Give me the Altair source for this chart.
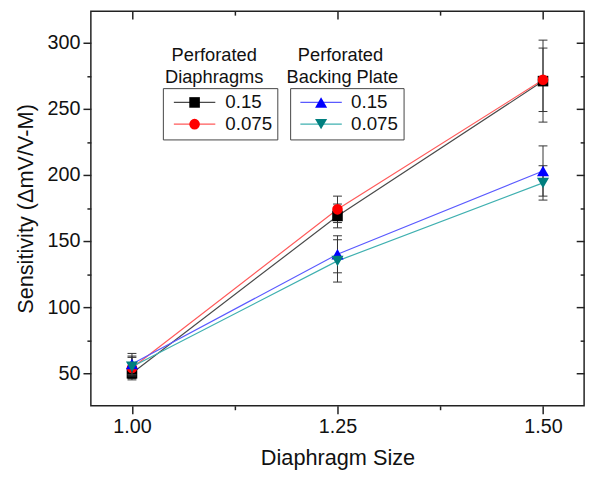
import altair as alt
import pandas as pd

sizes = [1.00, 1.25, 1.50]

# Perforated Diaphragms
diaph_015 = [50, 169, 271]
diaph_015_err = [4, 9, 31]
diaph_0075 = [54, 174, 272]
diaph_0075_err = [9, 10, 24]

# Perforated Backing Plate
bp_015 = [57, 140, 203]
bp_015_err = [8, 14, 19]
bp_0075 = [55, 135, 194]
bp_0075_err = [7, 16, 13]

series_names = ["0.15", "0.075"]
x_ticks = [1.0, 1.125, 1.25, 1.375, 1.5]
y_ticks = [50, 75, 100, 125, 150, 175, 200, 225, 250, 275, 300]

FONT = "Liberation Sans"
ROW_PITCH = 22


def frame(v1, e1, v2, e2):
    return pd.DataFrame({
        "size": sizes * 2,
        "series": [series_names[0]] * 3 + [series_names[1]] * 3,
        "value": v1 + v2,
        "err": e1 + e2,
    })


df1 = frame(diaph_015, diaph_015_err, diaph_0075, diaph_0075_err)
df2 = frame(bp_015, bp_015_err, bp_0075, bp_0075_err)

xdom = [0.95, 1.55]
ydom = [25.4, 323.9]
minor_x = "abs(datum.value*4 - round(datum.value*4)) > 0.01"
minor_y = "datum.value % 50 != 0"

ax_bottom = alt.Axis(
    orient="bottom", values=x_ticks, format=".2f",
    labelExpr=f"({minor_x}) ? '' : datum.label",
    tickSize={"condition": {"test": minor_x, "value": 4}, "value": 8},
    labelPadding=3, title="Diaphragm Size", titlePadding=12,
    grid=False, domain=False,
)
ax_left = alt.Axis(
    orient="left", values=y_ticks,
    labelExpr=f"({minor_y}) ? '' : datum.label",
    tickSize={"condition": {"test": minor_y, "value": 4}, "value": 8},
    labelPadding=3, title="Sensitivity (\u0394mV/V-M)", titlePadding=10,
    grid=False, domain=False,
)
ax_top = alt.Axis(
    orient="top", values=x_ticks, labels=False, title=None, grid=False, domain=False,
    tickSize={"condition": {"test": minor_x, "value": -4}, "value": -8},
)
ax_right = alt.Axis(
    orient="right", values=y_ticks, labels=False, title=None, grid=False, domain=False,
    tickSize={"condition": {"test": minor_y, "value": -4}, "value": -8},
)


def make_group(df, gid, colors, line_colors, shapes, sym, xaxis, yaxis, lx, ly):
    suf = lambda k: " " * (3 * gid + k + 1)
    r = sym ** 0.5 / 2
    half = 21 / r
    so = 7 - 5 - r + 21
    common = dict(
        title=None, orient="none", padding=5, symbolSize=sym,
        symbolOffset=so, labelOffset=55 - 5 - so - 2 * r,
        labelFontSize=19, labelFont=FONT, labelColor="#111",
        labelExpr="trim(datum.label)", legendX=lx,
    )
    ysc = alt.Scale(domain=ydom, nice=False, zero=False)
    x = alt.X("size:Q", scale=alt.Scale(domain=xdom, nice=False, zero=False), axis=xaxis)
    y = alt.Y("value:Q", scale=ysc, axis=yaxis)
    base = alt.Chart(df)

    line_legend = alt.Legend(
        legendY=ly, strokeColor="#444", symbolType=f"M-{half:.3f},0H{half:.3f}",
        symbolStrokeWidth=1.2, zindex=1, **common,
    )
    lines = base.transform_calculate(lkey=f"datum.series + '{suf(0)}'").mark_line(strokeWidth=1.2).encode(
        x=x, y=y,
        color=alt.Color("lkey:N", scale=alt.Scale(domain=[s + suf(0) for s in series_names], range=line_colors),
                        legend=line_legend),
    )
    calc = dict(lo="datum.value - datum.err", hi="datum.value + datum.err")
    rules = base.transform_calculate(**calc).mark_rule(color="#333", strokeWidth=1).encode(
        x=x, y=alt.Y("lo:Q", scale=ysc, axis=yaxis), y2="hi:Q"
    )
    caps = base.transform_calculate(**calc).transform_fold(
        ["lo", "hi"], as_=["end", "cap"]
    ).mark_point(shape="M-1,0H1", size=81, filled=False, color="#333", strokeWidth=1, opacity=1).encode(
        x=x, y=alt.Y("cap:Q", scale=ysc, axis=yaxis)
    )
    point_layers = []
    for i, name in enumerate(series_names):
        key = name + suf(i + 1)
        leg = alt.Legend(legendY=ly + i * ROW_PITCH, labelOpacity=0, zindex=2,
                         symbolType=shapes[i], **common)
        point_layers.append(
            base.transform_filter(alt.datum.series == name)
            .transform_calculate(mkey=f"datum.series + '{suf(i + 1)}'")
            .mark_point(filled=True, size=sym, opacity=1, shape=shapes[i])
            .encode(
                x=x, y=y,
                color=alt.Color("mkey:N", scale=alt.Scale(domain=[key], range=[colors[i]]), legend=leg),
            )
        )
    points = alt.layer(*point_layers).resolve_scale(color="independent")
    return alt.layer(lines, rules, caps, points).resolve_scale(color="independent")


g1 = make_group(
    df1, 0, ["#000000", "#ff0000"], ["#4a4a4a", "#ff5a5a"], ["square", "circle"], 115,
    ax_bottom, ax_left, 73, 78,
)
g2 = make_group(
    df2, 1, ["#0000ff", "#007f7f"], ["#5a5aff", "#3fb0b0"], ["triangle-up", "triangle-down"], 150,
    ax_top, ax_right, 202, 78,
)

title_df = pd.DataFrame({"a": [0]})


def title_text(txt, x, y):
    return alt.Chart(title_df).mark_text(
        font=FONT, fontSize=18.5, color="#111", align="center", baseline="alphabetic"
    ).encode(x=alt.value(x), y=alt.value(y), text=alt.value(txt))


titles = [
    title_text("Perforated", 125, 50),
    title_text("Diaphragms", 125, 73),
    title_text("Perforated", 253, 50),
    title_text("Backing Plate", 255, 73),
]

chart = alt.layer(g1, g2, *titles).resolve_scale(
    color="independent", shape="independent"
).resolve_axis(x="independent", y="independent").properties(
    width=500, height=400,
    autosize=alt.AutoSizeParams(type="none"),
    padding={"left": 84, "top": 0, "right": 8, "bottom": 72},
).configure_view(stroke="#222", strokeWidth=1.5).configure_axis(
    labelFont=FONT, titleFont=FONT, labelFontSize=20, titleFontSize=22,
    labelColor="#111", titleColor="#111", titleFontWeight="normal",
    tickColor="#222", tickWidth=1.5,
)

chart.save("out.html", embed_options={"renderer": "svg", "actions": False})
